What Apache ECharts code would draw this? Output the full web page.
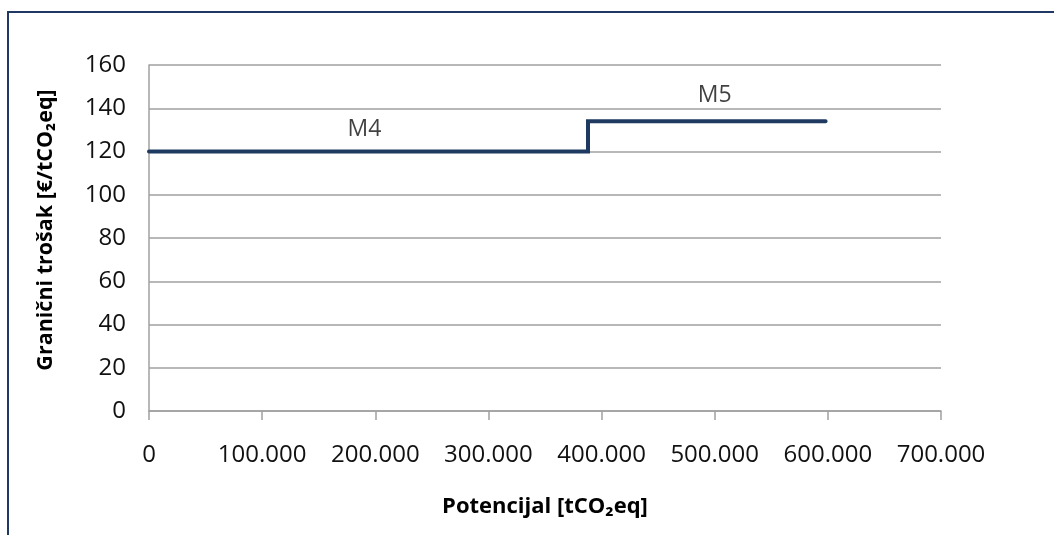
<!DOCTYPE html>
<html>
<head>
<meta charset="utf-8">
<script src="https://cdn.jsdelivr.net/npm/echarts@6/dist/echarts.min.js"></script>
<style>
html,body{margin:0;padding:0;background:#fff;}
#frame{position:absolute;left:7px;top:11px;width:1047px;height:524px;border-left:2px solid #1F3864;border-top:2px solid #1F3864;box-sizing:border-box;}
#chart{position:absolute;left:0;top:0;width:1054px;height:535px;}
</style>
</head>
<body>
<div id="frame"></div>
<div id="chart"></div>
<script>
// Data
var measureNames = ['M4', 'M5'];
var segmentStart = [0, 388000];
var segmentEnd = [388000, 598000];
var marginalCost = [120, 134];
var labelX = [190500, 500000];
var labelY = [130, 146];
var xTicks = [0, 100000, 200000, 300000, 400000, 500000, 600000, 700000];
var yTicks = [0, 20, 40, 60, 80, 100, 120, 140, 160];

var stepData = [];
for (var i = 0; i < measureNames.length; i++) {
  stepData.push([segmentStart[i], marginalCost[i]]);
  stepData.push([segmentEnd[i], marginalCost[i]]);
}
var labelData = measureNames.map(function (n, i) {
  return { name: n, value: [labelX[i], labelY[i]] };
});

function fmtThousands(v) {
  if (v === 0) return '0';
  return String(v).replace(/\B(?=(\d{3})+(?!\d))/g, '.');
}

var font = 'Open Sans';
var chart = echarts.init(document.getElementById('chart'), null, { renderer: 'canvas' });
chart.setOption({
  animation: false,
  backgroundColor: 'transparent',
  grid: { left: 149, right: 113, top: 65, bottom: 124, containLabel: false },
  xAxis: {
    type: 'value',
    min: xTicks[0],
    max: xTicks[xTicks.length - 1],
    interval: 100000,
    name: 'Potencijal [tCO\u2082eq]',
    nameLocation: 'middle',
    nameGap: 85,
    nameTextStyle: { fontFamily: font, fontSize: 22, fontWeight: 'bold', color: '#000' },
    axisLine: { show: true, lineStyle: { color: '#A0A0A0', width: 1.5 } },
    axisTick: { show: true, inside: false, length: 9, lineStyle: { color: '#A0A0A0', width: 1.5 } },
    axisLabel: { fontFamily: font, fontSize: 24, color: '#111', margin: 32, formatter: fmtThousands },
    splitLine: { show: false }
  },
  yAxis: {
    type: 'value',
    min: yTicks[0],
    max: yTicks[yTicks.length - 1],
    interval: 20,
    name: 'Grani\u010dni tro\u0161ak [\u20ac/tCO\u2082eq]',
    nameLocation: 'middle',
    nameGap: 92,
    nameTextStyle: { fontFamily: font, fontSize: 21.5, fontWeight: 'bold', color: '#000', padding: [0, 0, 0, 16] },
    axisLine: { show: true, lineStyle: { color: '#A0A0A0', width: 1.5 } },
    axisTick: { show: false },
    axisLabel: { fontFamily: font, fontSize: 24, color: '#111', margin: 23 },
    splitLine: { show: true, lineStyle: { color: '#A0A0A0', width: 1.5 } }
  },
  series: [
    {
      type: 'line',
      data: stepData,
      showSymbol: false,
      symbol: 'none',
      lineStyle: { color: '#1F3A60', width: 4, cap: 'round', join: 'miter' }
    },
    {
      type: 'scatter',
      data: labelData,
      symbolSize: 0,
      silent: true,
      label: {
        show: true,
        position: 'inside',
        formatter: '{b}',
        fontFamily: font,
        fontSize: 23,
        color: '#111'
      }
    }
  ]
});
</script>
</body>
</html>
